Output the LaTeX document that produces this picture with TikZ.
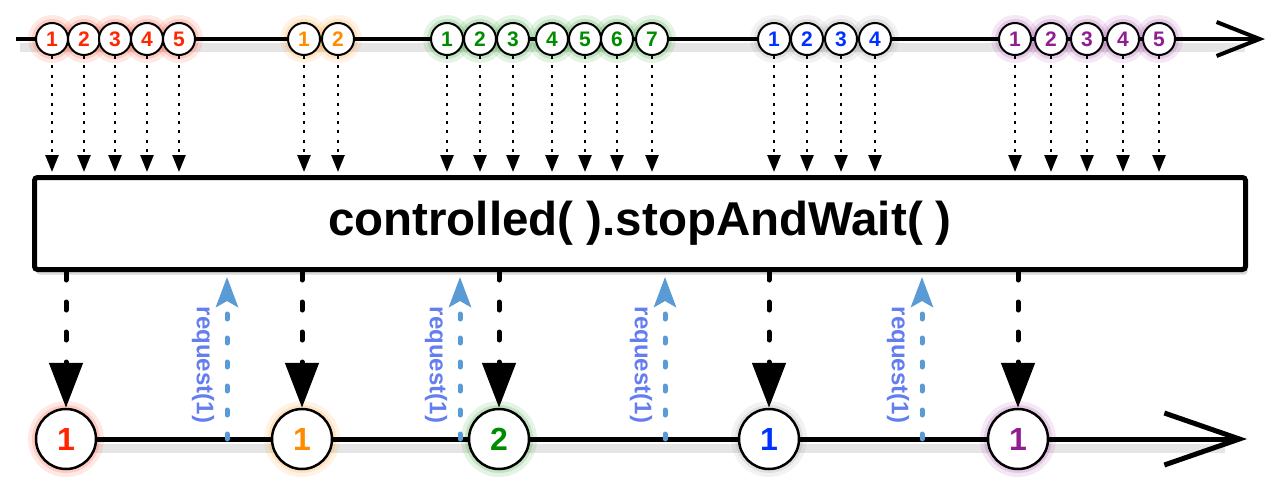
\documentclass[tikz,border=0pt]{standalone}
\usepackage{fontspec}
\setsansfont{Liberation Sans}
\usetikzlibrary{arrows.meta, calc, shadows}
\definecolor{mred}{RGB}{255,38,0}
\definecolor{morange}{RGB}{255,140,0}
\definecolor{mgreen}{RGB}{0,140,0}
\definecolor{mblue}{RGB}{0,50,255}
\definecolor{mpurple}{RGB}{145,30,145}
\definecolor{reqline}{RGB}{91,155,213}
\definecolor{reqtext}{RGB}{100,125,240}
\pgfdeclarelayer{glow}
\pgfsetlayers{glow,main}
\tikzset{
  axis/.style={line width=4pt, -{Straight Barb[length=43pt,width=34pt]}},
  smallmarble/.style={circle, draw, line width=2pt, fill=white, minimum size=32pt, inner sep=0pt, font=\sffamily\bfseries\fontsize{21}{21}\selectfont},
  bigmarble/.style={circle, draw, line width=2.5pt, fill=white, minimum size=60pt, inner sep=0pt, font=\sffamily\bfseries\fontsize{32}{32}\selectfont},
  feed/.style={line width=2.5pt, dash pattern=on 3pt off 6.3pt, shorten >=3pt, -{Triangle[width=13pt,length=17pt]}},
  emit/.style={line width=5pt, line cap=round, dash pattern=on 8pt off 22pt, -{Triangle[width=33pt,length=45pt]}},
  req/.style={reqline, line width=5pt, line cap=round, dash pattern=on 5pt off 19pt, shorten >=5pt, -{Stealth[width=22pt,length=30pt,inset=6pt]}},
  reqlabel/.style={text=reqtext, rotate=-90, inner sep=0pt, font=\sffamily\bfseries\fontsize{24}{24}\selectfont},
  lineshadow/.style={black, opacity=.1, line width=9pt}
}
\newcommand\marblerow[4]{%
\foreach \x [count=\i] in {#4} {
  \begin{pgfonlayer}{glow}
  \fill[#2, opacity=.1] (\x,39) circle (24pt);
  \fill[#2, opacity=.15] (\x,39) circle (20pt);
  \end{pgfonlayer}
  \node[smallmarble, text=#1] (#3\i) at (\x,39) {\i};
  \draw[feed] (#3\i) -- (#3\i |- op.north);
}}

\begin{document}
\begin{tikzpicture}[x=1pt, y=-1pt]
\useasboundingbox (0,0) rectangle (1280,490);
\node[draw, line width=5pt, rounded corners=3pt, fill=white, minimum width=1211pt, minimum height=92pt,
  drop shadow={shadow xshift=2pt, shadow yshift=-5pt, opacity=.3},
  font=\sffamily\bfseries\fontsize{47.5}{50}\selectfont] (op) at (640,223.5) {controlled( ).stopAndWait( )};
\coordinate (tin) at (16,39);
\coordinate (tout) at (1265,39);
\coordinate (bin) at (35,439);
\coordinate (bout) at (1247,439);
\begin{pgfonlayer}{glow}
\draw[lineshadow] (20,47) -- (1245,47);
\draw[lineshadow] (40,448) -- (1225,448);
\end{pgfonlayer}
\draw[axis] (tin) -- (tout);
\draw[axis, line width=5pt, -{Straight Barb[length=75pt,width=52pt]}] (bin) -- (bout);
\marblerow{mred}{mred}{r}{52,84,115,147,179}
\marblerow{morange}{morange}{o}{304,338}
\marblerow{mgreen}{mgreen}{g}{447,480,513,552,585,617,652}
\marblerow{mblue}{gray}{b}{774,807,841,875}
\marblerow{mpurple}{mpurple}{p}{1015,1051,1087,1123,1159}
\foreach \n/\x/\c/\g/\t in {R/66/mred/mred/1, O/302/morange/morange/1, G/499/mgreen/mgreen/2, B/769/mblue/gray/1, P/1018/mpurple/mpurple/1} {
  \begin{pgfonlayer}{glow}
  \fill[\g, opacity=.1] (\x,439) circle (38pt);
  \fill[\g, opacity=.15] (\x,439) circle (34pt);
  \end{pgfonlayer}
  \node[bigmarble, text=\c] (\n) at (\x,439) {\t};
  \draw[emit] (op.south -| \n) -- (\n);
}
\foreach \x [count=\i] in {227,460,665,922} {
  \coordinate (q\i) at (\x,439);
  \draw[req] (q\i) -- (q\i |- op.south);
  \node[reqlabel] at ($(q\i)+(-24,-74)$) {request(1)};
}
\end{tikzpicture}
\end{document}
